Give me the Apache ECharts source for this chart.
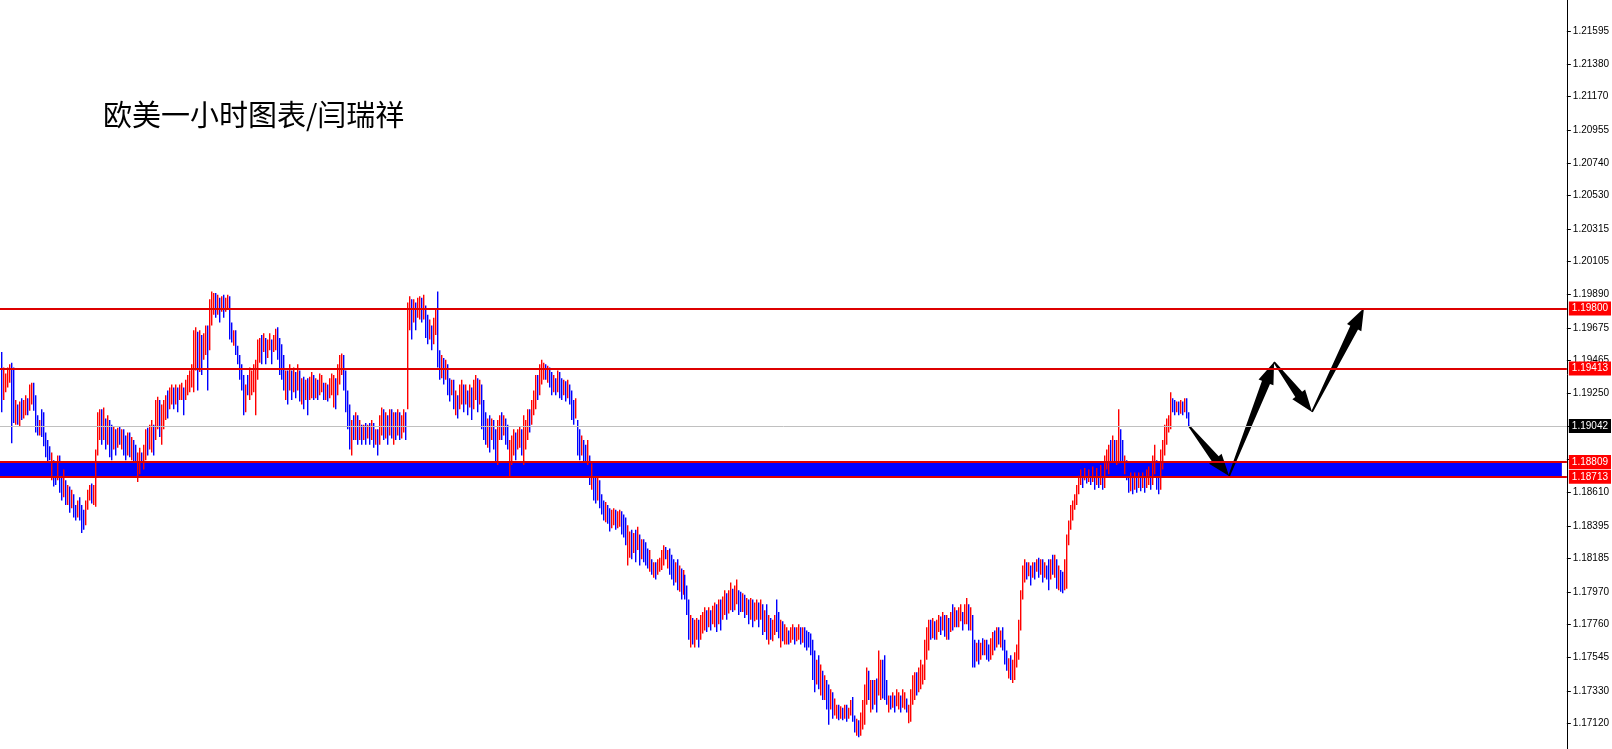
<!DOCTYPE html>
<html>
<head>
<meta charset="utf-8">
<title>欧美一小时图表</title>
<script src="https://cdn.jsdelivr.net/npm/echarts@6/dist/echarts.min.js"></script>
<style>
  html, body { margin: 0; padding: 0; background: #fff; }
  #chart { width: 1612px; height: 749px; }
</style>
</head>
<body>
<div id="chart"></div>
<script>
// EURUSD H1 bars, oldest first (one bar = one hour)
const highs = [
  1.1952, 1.1942, 1.1938, 1.1942, 1.1944, 1.1945, 1.1942, 1.1921, 1.1918, 1.1920,
  1.1922, 1.1921, 1.1924, 1.1922, 1.1931, 1.1932, 1.1932, 1.1924, 1.1911, 1.1908,
  1.1915, 1.1913, 1.1900, 1.1895, 1.1891, 1.1887, 1.1882, 1.1881, 1.1885, 1.1885,
  1.1879, 1.1876, 1.1869, 1.1866, 1.1865, 1.1863, 1.1860, 1.1853, 1.1856, 1.1858,
  1.1853, 1.1850, 1.1856, 1.1863, 1.1866, 1.1867, 1.1866, 1.1889, 1.1913, 1.1915,
  1.1915, 1.1916, 1.1909, 1.1911, 1.1908, 1.1905, 1.1904, 1.1902, 1.1903, 1.1904,
  1.1902, 1.1902, 1.1898, 1.1900, 1.1900, 1.1897, 1.1895, 1.1892, 1.1887, 1.1890,
  1.1887, 1.1892, 1.1902, 1.1903, 1.1905, 1.1908, 1.1905, 1.1921, 1.1923, 1.1921,
  1.1918, 1.1921, 1.1924, 1.1927, 1.1929, 1.1931, 1.1929, 1.1931, 1.1929, 1.1931,
  1.1932, 1.1929, 1.1934, 1.1937, 1.1940, 1.1944, 1.1966, 1.1968, 1.1965, 1.1966,
  1.1963, 1.1964, 1.1969, 1.1969, 1.1986, 1.1991, 1.1990, 1.1990, 1.1989, 1.1987,
  1.1988, 1.1989, 1.1987, 1.1989, 1.1988, 1.1971, 1.1966, 1.1966, 1.1956, 1.1950,
  1.1944, 1.1937, 1.1931, 1.1937, 1.1942, 1.1940, 1.1944, 1.1947, 1.1960, 1.1961,
  1.1963, 1.1964, 1.1961, 1.1960, 1.1964, 1.1960, 1.1963, 1.1967, 1.1968, 1.1961,
  1.1957, 1.1950, 1.1940, 1.1940, 1.1944, 1.1940, 1.1942, 1.1939, 1.1944, 1.1940,
  1.1935, 1.1936, 1.1934, 1.1935, 1.1936, 1.1939, 1.1937, 1.1935, 1.1934, 1.1938,
  1.1937, 1.1932, 1.1932, 1.1931, 1.1935, 1.1938, 1.1937, 1.1935, 1.1944, 1.1950,
  1.1951, 1.1950, 1.1940, 1.1927, 1.1918, 1.1908, 1.1911, 1.1913, 1.1911, 1.1908,
  1.1905, 1.1905, 1.1906, 1.1905, 1.1906, 1.1908, 1.1906, 1.1902, 1.1902, 1.1911,
  1.1916, 1.1915, 1.1913, 1.1911, 1.1915, 1.1915, 1.1913, 1.1913, 1.1915, 1.1913,
  1.1911, 1.1915, 1.1913, 1.1984, 1.1988, 1.1986, 1.1986, 1.1984, 1.1987, 1.1988,
  1.1987, 1.1989, 1.1982, 1.1976, 1.1973, 1.1969, 1.1974, 1.1979, 1.1991, 1.1953,
  1.1950, 1.1948, 1.1947, 1.1944, 1.1935, 1.1934, 1.1934, 1.1927, 1.1924, 1.1931,
  1.1934, 1.1931, 1.1931, 1.1927, 1.1931, 1.1929, 1.1934, 1.1937, 1.1935, 1.1934,
  1.1931, 1.1921, 1.1913, 1.1909, 1.1911, 1.1909, 1.1908, 1.1902, 1.1908, 1.1911,
  1.1913, 1.1911, 1.1909, 1.1905, 1.1895, 1.1898, 1.1902, 1.1900, 1.1902, 1.1904,
  1.1902, 1.1911, 1.1908, 1.1915, 1.1915, 1.1921, 1.1927, 1.1937, 1.1937, 1.1944,
  1.1947, 1.1945, 1.1944, 1.1943, 1.1942, 1.1939, 1.1937, 1.1935, 1.1940, 1.1939,
  1.1935, 1.1934, 1.1933, 1.1934, 1.1931, 1.1927, 1.1921, 1.1922, 1.1908, 1.1902,
  1.1898, 1.1895, 1.1892, 1.1895, 1.1885, 1.1880, 1.1876, 1.1873, 1.1871, 1.1869,
  1.1860, 1.1856, 1.1855, 1.1853, 1.1851, 1.1850, 1.1851, 1.1850, 1.1849, 1.1850,
  1.1849, 1.1847, 1.1845, 1.1840, 1.1836, 1.1837, 1.1835, 1.1837, 1.1839, 1.1834,
  1.1831, 1.1831, 1.1829, 1.1825, 1.1824, 1.1818, 1.1816, 1.1816, 1.1818, 1.1819,
  1.1824, 1.1827, 1.1826, 1.1824, 1.1825, 1.1821, 1.1818, 1.1816, 1.1818, 1.1814,
  1.1812, 1.1811, 1.1808, 1.1801, 1.1792, 1.1782, 1.1780, 1.1779, 1.1780, 1.1779,
  1.1782, 1.1784, 1.1787, 1.1785, 1.1787, 1.1785, 1.1788, 1.1790, 1.1789, 1.1792,
  1.1792, 1.1794, 1.1798, 1.1796, 1.1798, 1.1803, 1.1799, 1.1801, 1.1805, 1.1798,
  1.1797, 1.1796, 1.1795, 1.1793, 1.1792, 1.1793, 1.1792, 1.1790, 1.1792, 1.1790,
  1.1792, 1.1789, 1.1785, 1.1789, 1.1782, 1.1780, 1.1779, 1.1782, 1.1792, 1.1784,
  1.1779, 1.1778, 1.1776, 1.1774, 1.1772, 1.1774, 1.1776, 1.1774, 1.1774, 1.1776,
  1.1774, 1.1774, 1.1774, 1.1772, 1.1771, 1.1770, 1.1766, 1.1759, 1.1753, 1.1756,
  1.1750, 1.1746, 1.1743, 1.1740, 1.1737, 1.1734, 1.1732, 1.1728, 1.1724, 1.1724,
  1.1723, 1.1722, 1.1724, 1.1724, 1.1722, 1.1727, 1.1729, 1.1717, 1.1715, 1.1714,
  1.1719, 1.1727, 1.1737, 1.1748, 1.1746, 1.1740, 1.1740, 1.1740, 1.1741, 1.1759,
  1.1753, 1.1753, 1.1756, 1.1740, 1.1730, 1.1730, 1.1732, 1.1730, 1.1734, 1.1732,
  1.1730, 1.1734, 1.1732, 1.1728, 1.1724, 1.1734, 1.1743, 1.1745, 1.1745, 1.1748,
  1.1753, 1.1750, 1.1766, 1.1774, 1.1779, 1.1779, 1.1780, 1.1778, 1.1779, 1.1782,
  1.1781, 1.1784, 1.1782, 1.1782, 1.1780, 1.1784, 1.1789, 1.1787, 1.1785, 1.1787,
  1.1789, 1.1784, 1.1789, 1.1793, 1.1789, 1.1787, 1.1782, 1.1766, 1.1764, 1.1766,
  1.1764, 1.1767, 1.1766, 1.1766, 1.1763, 1.1767, 1.1771, 1.1772, 1.1774, 1.1774,
  1.1772, 1.1774, 1.1766, 1.1759, 1.1754, 1.1756, 1.1753, 1.1758, 1.1763, 1.1779,
  1.1798, 1.1814, 1.1818, 1.1816, 1.1816, 1.1814, 1.1816, 1.1816, 1.1818, 1.1819,
  1.1818, 1.1818, 1.1816, 1.1814, 1.1818, 1.1818, 1.1821, 1.1821, 1.1818, 1.1814,
  1.1811, 1.1810, 1.1818, 1.1834, 1.1843, 1.1853, 1.1856, 1.1860, 1.1866, 1.1872,
  1.1876, 1.1876, 1.1877, 1.1877, 1.1876, 1.1877, 1.1878, 1.1876, 1.1877, 1.1876,
  1.1879, 1.1876, 1.1885, 1.1889, 1.1892, 1.1895, 1.1898, 1.1895, 1.1895, 1.1915,
  1.1902, 1.1895, 1.1885, 1.1882, 1.1874, 1.1874, 1.1873, 1.1874, 1.1873, 1.1874,
  1.1876, 1.1874, 1.1874, 1.1876, 1.1878, 1.1876, 1.1885, 1.1892, 1.1882, 1.1876,
  1.1889, 1.1895, 1.1905, 1.1909, 1.1911, 1.1926, 1.1922, 1.1921, 1.1920, 1.1920,
  1.1921, 1.1920, 1.1922, 1.1922, 1.1913
];
const lows = [
  1.1913, 1.1921, 1.1926, 1.1929, 1.1932, 1.1893, 1.1906, 1.1905, 1.1905, 1.1904,
  1.1908, 1.1909, 1.1911, 1.1911, 1.1914, 1.1918, 1.1914, 1.1900, 1.1898, 1.1898,
  1.1897, 1.1891, 1.1884, 1.1881, 1.1882, 1.1869, 1.1865, 1.1866, 1.1869, 1.1861,
  1.1856, 1.1858, 1.1853, 1.1853, 1.1848, 1.1851, 1.1845, 1.1843, 1.1845, 1.1843,
  1.1835, 1.1837, 1.1840, 1.1850, 1.1856, 1.1854, 1.1853, 1.1852, 1.1885, 1.1895,
  1.1892, 1.1895, 1.1889, 1.1892, 1.1884, 1.1882, 1.1889, 1.1885, 1.1890, 1.1892,
  1.1889, 1.1885, 1.1882, 1.1885, 1.1884, 1.1882, 1.1881, 1.1876, 1.1868, 1.1873,
  1.1871, 1.1876, 1.1882, 1.1885, 1.1889, 1.1887, 1.1885, 1.1895, 1.1902, 1.1897,
  1.1892, 1.1902, 1.1908, 1.1909, 1.1915, 1.1918, 1.1915, 1.1918, 1.1913, 1.1921,
  1.1921, 1.1911, 1.1921, 1.1924, 1.1926, 1.1929, 1.1926, 1.1940, 1.1927, 1.1939,
  1.1937, 1.1947, 1.1950, 1.1927, 1.1953, 1.1969, 1.1976, 1.1974, 1.1976, 1.1971,
  1.1978, 1.1974, 1.1978, 1.1979, 1.1960, 1.1958, 1.1956, 1.1950, 1.1944, 1.1934,
  1.1927, 1.1911, 1.1913, 1.1924, 1.1921, 1.1924, 1.1926, 1.1911, 1.1934, 1.1945,
  1.1944, 1.1952, 1.1944, 1.1948, 1.1953, 1.1944, 1.1952, 1.1953, 1.1947, 1.1937,
  1.1934, 1.1927, 1.1921, 1.1918, 1.1927, 1.1921, 1.1926, 1.1922, 1.1927, 1.1920,
  1.1918, 1.1915, 1.1921, 1.1911, 1.1921, 1.1922, 1.1921, 1.1922, 1.1921, 1.1924,
  1.1926, 1.1921, 1.1921, 1.1920, 1.1922, 1.1924, 1.1916, 1.1915, 1.1924, 1.1931,
  1.1937, 1.1927, 1.1913, 1.1902, 1.1889, 1.1885, 1.1895, 1.1895, 1.1892, 1.1895,
  1.1892, 1.1895, 1.1892, 1.1896, 1.1892, 1.1895, 1.1890, 1.1892, 1.1885, 1.1892,
  1.1898, 1.1895, 1.1896, 1.1892, 1.1898, 1.1896, 1.1892, 1.1895, 1.1898, 1.1895,
  1.1896, 1.1900, 1.1895, 1.1915, 1.1966, 1.1960, 1.1971, 1.1966, 1.1974, 1.1973,
  1.1971, 1.1973, 1.1961, 1.1957, 1.1960, 1.1953, 1.1957, 1.1963, 1.1942, 1.1934,
  1.1935, 1.1931, 1.1934, 1.1924, 1.1920, 1.1924, 1.1915, 1.1911, 1.1909, 1.1915,
  1.1918, 1.1913, 1.1918, 1.1911, 1.1916, 1.1908, 1.1915, 1.1921, 1.1913, 1.1918,
  1.1902, 1.1895, 1.1892, 1.1890, 1.1887, 1.1895, 1.1889, 1.1873, 1.1879, 1.1895,
  1.1895, 1.1898, 1.1892, 1.1889, 1.1871, 1.1879, 1.1885, 1.1882, 1.1889, 1.1890,
  1.1885, 1.1879, 1.1889, 1.1895, 1.1900, 1.1905, 1.1911, 1.1915, 1.1921, 1.1924,
  1.1931, 1.1934, 1.1934, 1.1932, 1.1929, 1.1924, 1.1926, 1.1924, 1.1926, 1.1922,
  1.1921, 1.1924, 1.1920, 1.1922, 1.1918, 1.1908, 1.1905, 1.1909, 1.1885, 1.1882,
  1.1885, 1.1879, 1.1876, 1.1879, 1.1866, 1.1863, 1.1856, 1.1854, 1.1856, 1.1851,
  1.1847, 1.1843, 1.1842, 1.1841, 1.1836, 1.1838, 1.1840, 1.1837, 1.1838, 1.1839,
  1.1834, 1.1832, 1.1827, 1.1814, 1.1819, 1.1818, 1.1822, 1.1816, 1.1824, 1.1814,
  1.1818, 1.1816, 1.1814, 1.1812, 1.1810, 1.1808, 1.1806, 1.1805, 1.1808, 1.1810,
  1.1811, 1.1814, 1.1818, 1.1812, 1.1808, 1.1805, 1.1801, 1.1803, 1.1798, 1.1797,
  1.1792, 1.1795, 1.1792, 1.1782, 1.1766, 1.1761, 1.1763, 1.1761, 1.1766, 1.1761,
  1.1766, 1.1770, 1.1772, 1.1771, 1.1774, 1.1772, 1.1776, 1.1774, 1.1771, 1.1776,
  1.1772, 1.1779, 1.1782, 1.1779, 1.1783, 1.1785, 1.1784, 1.1785, 1.1789, 1.1782,
  1.1784, 1.1784, 1.1780, 1.1782, 1.1776, 1.1779, 1.1774, 1.1778, 1.1779, 1.1774,
  1.1779, 1.1769, 1.1771, 1.1766, 1.1763, 1.1766, 1.1765, 1.1769, 1.1771, 1.1767,
  1.1761, 1.1765, 1.1763, 1.1763, 1.1763, 1.1764, 1.1766, 1.1763, 1.1765, 1.1766,
  1.1763, 1.1764, 1.1761, 1.1759, 1.1761, 1.1756, 1.1740, 1.1732, 1.1737, 1.1734,
  1.1730, 1.1727, 1.1727, 1.1721, 1.1711, 1.1721, 1.1715, 1.1717, 1.1715, 1.1714,
  1.1715, 1.1714, 1.1715, 1.1713, 1.1715, 1.1717, 1.1713, 1.1706, 1.1704, 1.1703,
  1.1704, 1.1708, 1.1711, 1.1724, 1.1727, 1.1719, 1.1721, 1.1724, 1.1719, 1.1730,
  1.1727, 1.1728, 1.1727, 1.1724, 1.1719, 1.1721, 1.1722, 1.1719, 1.1723, 1.1721,
  1.1719, 1.1722, 1.1721, 1.1719, 1.1712, 1.1713, 1.1724, 1.1727, 1.1730, 1.1732,
  1.1734, 1.1737, 1.1740, 1.1753, 1.1759, 1.1766, 1.1767, 1.1766, 1.1766, 1.1771,
  1.1769, 1.1772, 1.1768, 1.1766, 1.1766, 1.1771, 1.1772, 1.1774, 1.1774, 1.1774,
  1.1778, 1.1772, 1.1776, 1.1776, 1.1772, 1.1772, 1.1748, 1.1748, 1.1752, 1.1750,
  1.1753, 1.1756, 1.1756, 1.1753, 1.1752, 1.1753, 1.1756, 1.1759, 1.1761, 1.1763,
  1.1761, 1.1759, 1.1750, 1.1746, 1.1741, 1.1740, 1.1738, 1.1740, 1.1748, 1.1753,
  1.1772, 1.1792, 1.1803, 1.1805, 1.1807, 1.1801, 1.1806, 1.1805, 1.1810, 1.1806,
  1.1808, 1.1803, 1.1806, 1.1805, 1.1798, 1.1805, 1.1808, 1.1806, 1.1799, 1.1798,
  1.1797, 1.1796, 1.1798, 1.1799, 1.1827, 1.1837, 1.1843, 1.1850, 1.1853, 1.1860,
  1.1866, 1.1864, 1.1869, 1.1867, 1.1868, 1.1866, 1.1868, 1.1863, 1.1866, 1.1864,
  1.1866, 1.1863, 1.1864, 1.1876, 1.1873, 1.1876, 1.1881, 1.1879, 1.1879, 1.1880,
  1.1879, 1.1876, 1.1873, 1.1869, 1.1861, 1.1862, 1.1860, 1.1863, 1.1861, 1.1864,
  1.1862, 1.1864, 1.1861, 1.1864, 1.1866, 1.1863, 1.1866, 1.1873, 1.1863, 1.1860,
  1.1863, 1.1876, 1.1885, 1.1892, 1.1900, 1.1902, 1.1913, 1.1911, 1.1913, 1.1911,
  1.1912, 1.1911, 1.1913, 1.1909, 1.1904
];
// r = bar closed up (red), b = bar closed down (blue)
const barDirs = [
  'brrrrbbrbr', 'brrbrrbbbr', 'bbbbbrbbrb', 'brbrbrbbrb', 'bbrrrbrrrr',
  'brbrbbrbrb', 'rbbrbrbbrr', 'brrbrrbrrb', 'rrrbrrbrbr', 'rbrrrrrrbr',
  'brrbrrrbrb', 'rbrrbbrbbb', 'bbrbrrrrrr', 'brbrrbrrbb', 'bbrbrbrbrb',
  'rbrbrrbrbr', 'rbrbrrrbrr', 'rbbbbrbrbr', 'brbrbrbrbr', 'rbrbrbrbrb',
  'rrbrrbrbrr', 'brbbrbrrbb', 'rbrbbrbrbr', 'rbrbrbrrbr', 'bbbrbrbbrr',
  'brbbrrrbrr', 'brrrbrrrbr', 'rrbrbbrbrb', 'brbrbbbrbb', 'rbbrbrbbrb',
  'bbrbbrrbrr', 'bbbrrbrbrb', 'rbbbrbrbrr', 'rrbrbbbrbr', 'brbbbrbrrb',
  'rrrbrbrrbr', 'brrbrrbrrb', 'brbrbrbrrb', 'rbrbrbrrbb', 'rbrrbrrbrr',
  'brbbbbbbrb', 'rbrbbrbrrb', 'rbrbrrbbrb', 'rrrrbrbrbr', 'rbbbrbrbrr',
  'brrbrrrrbr', 'rrrrrbrbrr', 'brbrbrbrbr', 'rbrrbrbbrb', 'rbrbbrrbrb',
  'rbbbrbrrrr', 'rrrbrbrbrb', 'rbrbbrbrbr', 'bbrrrrrrrr', 'rbrbrbrbrb',
  'rbrrrbrbrr', 'bbrbbrbrbr', 'brbrrbrrbb', 'rrrrrrbbrb', 'rbrbb'
].join('');

const SLOTS = 784; // bar slots across the plot, incl. empty space on the right

const axisTicks = [
  1.21595, 1.21380, 1.21170, 1.20955, 1.20740, 1.20530, 1.20315, 1.20105,
  1.19890, 1.19675, 1.19465, 1.19250, 1.19040, 1.18825, 1.18610, 1.18395,
  1.18185, 1.17970, 1.17760, 1.17545, 1.17330, 1.17120
];
// labels hidden under the price tags in the original
const coveredTicks = [1.19040, 1.18825];
const resistLines = [1.19800, 1.19413];
const zoneTop = 1.18809;
const zoneBottom = 1.18713;
const zoneEndSlot = 781;
const lastPrice = 1.19042;

// hand-drawn forecast zigzag: bar slot and price of each turn
const pathSlots = [594.5, 614.5, 637, 656, 682];
const pathPrices = [1.19040, 1.18718, 1.19455, 1.19132, 1.19804];

const UP = '#ff0000', DOWN = '#0000ff', LINE_RED = '#dd0000';

const barData = highs.map((h, i) => [i, lows[i], h, barDirs[i] === 'r' ? 1 : 0]);
const arrowData = [];
for (let k = 0; k < pathSlots.length - 1; k++) {
  arrowData.push([pathSlots[k], pathPrices[k], pathSlots[k + 1], pathPrices[k + 1]]);
}

const priceLabel = (bg) => ({
  show: true,
  position: 'end',
  distance: 2,
  formatter: p => Number(p.value).toFixed(5),
  color: '#fff',
  backgroundColor: bg,
  padding: [2, 3, 1, 3],
  fontSize: 10,
  lineHeight: 11,
  fontFamily: 'Liberation Sans'
});

const chart = echarts.init(document.getElementById('chart'));
chart.setOption({
  animation: false,
  backgroundColor: '#fff',
  title: {
    text: '欧美一小时图表/闫瑞祥',
    left: 103,
    top: 100,
    padding: 0,
    textStyle: {
      fontFamily: 'Noto Sans CJK SC',
      fontSize: 29,
      fontWeight: 'normal',
      color: '#000'
    }
  },
  grid: { left: 0, right: 44, top: 0, bottom: 0 },
  xAxis: {
    type: 'value',
    min: -0.5,
    max: SLOTS - 0.5,
    show: false
  },
  yAxis: {
    type: 'value',
    position: 'right',
    min: 1.16954,
    max: 1.21794,
    splitLine: { show: false },
    axisLine: { show: true, onZero: false, lineStyle: { color: '#000', width: 1 } },
    axisTick: { show: true, length: 4, lineStyle: { color: '#000' }, customValues: axisTicks },
    axisLabel: {
      customValues: axisTicks.filter(v => !coveredTicks.includes(v)),
      formatter: v => v.toFixed(5),
      margin: 6,
      color: '#000',
      fontSize: 10,
      fontFamily: 'Liberation Sans'
    }
  },
  series: [
    {
      // support zone (drawn behind the bars)
      type: 'line',
      data: [],
      z: 1,
      silent: true,
      markArea: {
        silent: true,
        itemStyle: { color: '#0000ff' },
        data: [[{ xAxis: -0.5, yAxis: zoneTop }, { xAxis: zoneEndSlot, yAxis: zoneBottom }]]
      }
    },
    {
      type: 'custom',
      z: 2,
      silent: true,
      data: barData,
      renderItem: (params, api) => {
        const lo = api.coord([api.value(0), api.value(1)]);
        const hi = api.coord([api.value(0), api.value(2)]);
        return {
          type: 'rect',
          shape: { x: Math.round(lo[0]), y: hi[1], width: 1.4, height: Math.max(1, lo[1] - hi[1]) },
          style: { fill: api.value(3) ? UP : DOWN }
        };
      }
    },
    {
      // horizontal level lines with price tags on the axis
      type: 'line',
      data: [],
      z: 3,
      silent: true,
      markLine: {
        silent: true,
        precision: 5,
        symbol: ['none', 'none'],
        data: [
          { yAxis: lastPrice, lineStyle: { color: '#c0c0c0', width: 1, type: 'solid' }, label: priceLabel('#000') },
          ...resistLines.map(v => ({ yAxis: v, lineStyle: { color: LINE_RED, width: 2, type: 'solid' }, label: priceLabel('#f00') })),
          { yAxis: zoneTop, lineStyle: { color: LINE_RED, width: 2, type: 'solid' }, label: priceLabel('#f00') },
          { yAxis: zoneBottom, lineStyle: { color: LINE_RED, width: 2, type: 'solid' }, label: priceLabel('#f00') }
        ]
      }
    },
    {
      // forecast arrows
      type: 'custom',
      z: 4,
      silent: true,
      clip: false,
      data: arrowData,
      renderItem: (params, api) => {
        const a = api.coord([api.value(0), api.value(1)]);
        const b = api.coord([api.value(2), api.value(3)]);
        const dx = b[0] - a[0], dy = b[1] - a[1];
        const len = Math.hypot(dx, dy);
        const ux = dx / len, uy = dy / len, nx = -uy, ny = ux;
        const headLen = 22, headHalf = 8, shaftHalf = 4.3, tailHalf = 0.9;
        const bx = b[0] - ux * headLen, by = b[1] - uy * headLen;
        return {
          type: 'polygon',
          shape: {
            points: [
              [a[0] + nx * tailHalf, a[1] + ny * tailHalf],
              [bx + nx * shaftHalf, by + ny * shaftHalf],
              [bx + nx * headHalf, by + ny * headHalf],
              [b[0], b[1]],
              [bx - nx * headHalf, by - ny * headHalf],
              [bx - nx * shaftHalf, by - ny * shaftHalf],
              [a[0] - nx * tailHalf, a[1] - ny * tailHalf]
            ]
          },
          style: { fill: '#000' }
        };
      }
    }
  ]
});
</script>
</body>
</html>
